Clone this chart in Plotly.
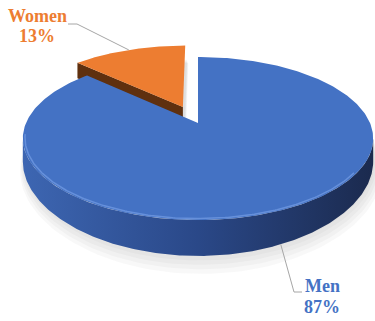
import numpy as np
import plotly.graph_objects as go

# Share of each group (percent), drawn clockwise from 12 o'clock
labels = ["Men", "Women"]
shares = [87, 13]
top_colors = ["#4472C4", "#ED7D31"]
text_colors = ["#4472C4", "#ED7D31"]
explode = [0.0, 0.23]

# Perspective projection of a tilted disc into pixel space
CX, CY = 198.0, 123.0
SX, SY = 172.0, 78.6
K = 0.19          # foreshortening of the far half
DEPTH, KD = 21.2, 0.41


def project(u, v, z=0.0):
    d = 1.0 + K * v
    x = CX + SX * u / d
    y = CY - SY * v / d + z * DEPTH / (1.0 + KD * v)
    return x, y


fracs = np.array(shares, dtype=float) / sum(shares)
ends = np.cumsum(fracs) * 2 * np.pi
starts = ends - fracs * 2 * np.pi

fig = go.Figure()


def add_poly(xs, ys, color=None, gradient=None, opacity=1.0):
    kw = dict(x=list(xs), y=list(ys), mode="lines", fill="toself",
              hoverinfo="skip", showlegend=False, opacity=opacity,
              line=dict(width=0, color="rgba(0,0,0,0)"))
    if gradient is not None:
        kw["fillgradient"] = gradient
    else:
        kw["fillcolor"] = color
    fig.add_trace(go.Scatter(**kw))


def slice_offset(i):
    mid = (starts[i] + ends[i]) / 2
    return explode[i] * np.sin(mid), explode[i] * np.cos(mid)


# soft drop shadow, cast slightly down and to the right
for layer in range(5):
    grow = 1.0 + 0.008 * layer
    for i in range(len(shares)):
        ou, ov = slice_offset(i)
        th = np.linspace(starts[i], ends[i], 160)
        u = np.concatenate([[ou], ou + grow * np.sin(th), [ou]])
        v = np.concatenate([[ov], ov + grow * np.cos(th), [ov]])
        xs, ys = project(u, v, 1.0 + 0.09 * layer)
        add_poly(xs + 1.5 + 0.4 * layer, ys, color="rgb(110,110,110)", opacity=0.05)

# visible range of the outer rim (front half between the silhouette extremes)
vis0 = np.arccos(-K)
vis1 = 2 * np.pi - vis0

side_gradients = [
    dict(type="horizontal", colorscale=[[0, "#3D66B2"], [0.5, "#2A4888"], [1, "#1B2A4E"]]),
    dict(type="horizontal", colorscale=[[0, "#6E3812"], [1, "#4E270B"]]),
]
radial_colors = ["#2E4F8F", "#5F300F"]

for i in [1, 0]:  # far slice first
    ou, ov = slice_offset(i)
    t0, t1 = starts[i], ends[i]

    # outer rim side
    a0, a1 = max(t0, vis0), min(t1, vis1)
    if a1 > a0:
        th = np.linspace(a0, a1, 240)
        u = ou + np.sin(th)
        v = ov + np.cos(th)
        xt, yt = project(u, v, 0.0)
        xb, yb = project(u, v, 1.0)
        add_poly(np.concatenate([xt, xb[::-1]]), np.concatenate([yt, yb[::-1]]),
                 gradient=side_gradients[i])

    # radial cut face at the slice start when it faces the viewer
    if explode[i] > 0:
        u = np.array([ou, ou + np.sin(t0)])
        v = np.array([ov, ov + np.cos(t0)])
        xt, yt = project(u, v, 0.0)
        xb, yb = project(u, v, 1.0)
        add_poly([xt[0], xt[1], xb[1], xb[0]], [yt[0], yt[1], yb[1], yb[0]],
                 color=radial_colors[i])

    # top face
    th = np.linspace(t0, t1, 300)
    u = np.concatenate([[ou], ou + np.sin(th), [ou]])
    v = np.concatenate([[ov], ov + np.cos(th), [ov]])
    xs, ys = project(u, v, 0.0)
    add_poly(xs, ys, color=top_colors[i])

    # bevel highlight along the front edge of the top face
    b0, b1 = max(t0, np.radians(125)), min(t1, np.radians(262))
    if b1 > b0:
        th = np.linspace(b0, b1, 200)
        xs, ys = project(ou + 0.988 * np.sin(th), ov + 0.988 * np.cos(th), 0.0)
        fig.add_trace(go.Scatter(x=xs, y=ys, mode="lines", hoverinfo="skip",
                                 showlegend=False,
                                 line=dict(color="rgba(125,165,235,0.6)", width=1.5)))

# data labels with leader lines anchored at each slice's mid angle
label_pos = {"Men": (322, 286, 307), "Women": (37, 16, 36)}
for i, name in enumerate(labels):
    ou, ov = slice_offset(i)
    mid = (starts[i] + ends[i]) / 2
    if name == "Men":
        ax, ay = project(ou + np.sin(mid), ov + np.cos(mid), 1.0)
        lx, ly = [ax, 294, 302], [ay, 292, 292]
    else:
        ax, ay = project(ou + np.sin(mid), ov + np.cos(mid), 0.0)
        lx, ly = [68, 77, ax], [24, 24, ay]
    fig.add_trace(go.Scatter(x=lx, y=ly, mode="lines", hoverinfo="skip",
                             showlegend=False, line=dict(color="#A6A6A6", width=1)))
    tx, ty1, ty2 = label_pos[name]
    for txt, ty in ((name, ty1), (f"{shares[i]}%", ty2)):
        fig.add_annotation(x=tx, y=ty, xref="x", yref="y", text=f"<b>{txt}</b>",
                           showarrow=False, xanchor="center", yanchor="middle",
                           font=dict(family="Liberation Serif, Times New Roman, serif",
                                     size=18, color=text_colors[i]))

fig.update_layout(
    width=375, height=321,
    margin=dict(l=0, r=0, t=0, b=0),
    paper_bgcolor="white", plot_bgcolor="white",
    xaxis=dict(range=[0, 375], visible=False, fixedrange=True),
    yaxis=dict(range=[321, 0], visible=False, fixedrange=True),
)

fig.write_html("out.html")
